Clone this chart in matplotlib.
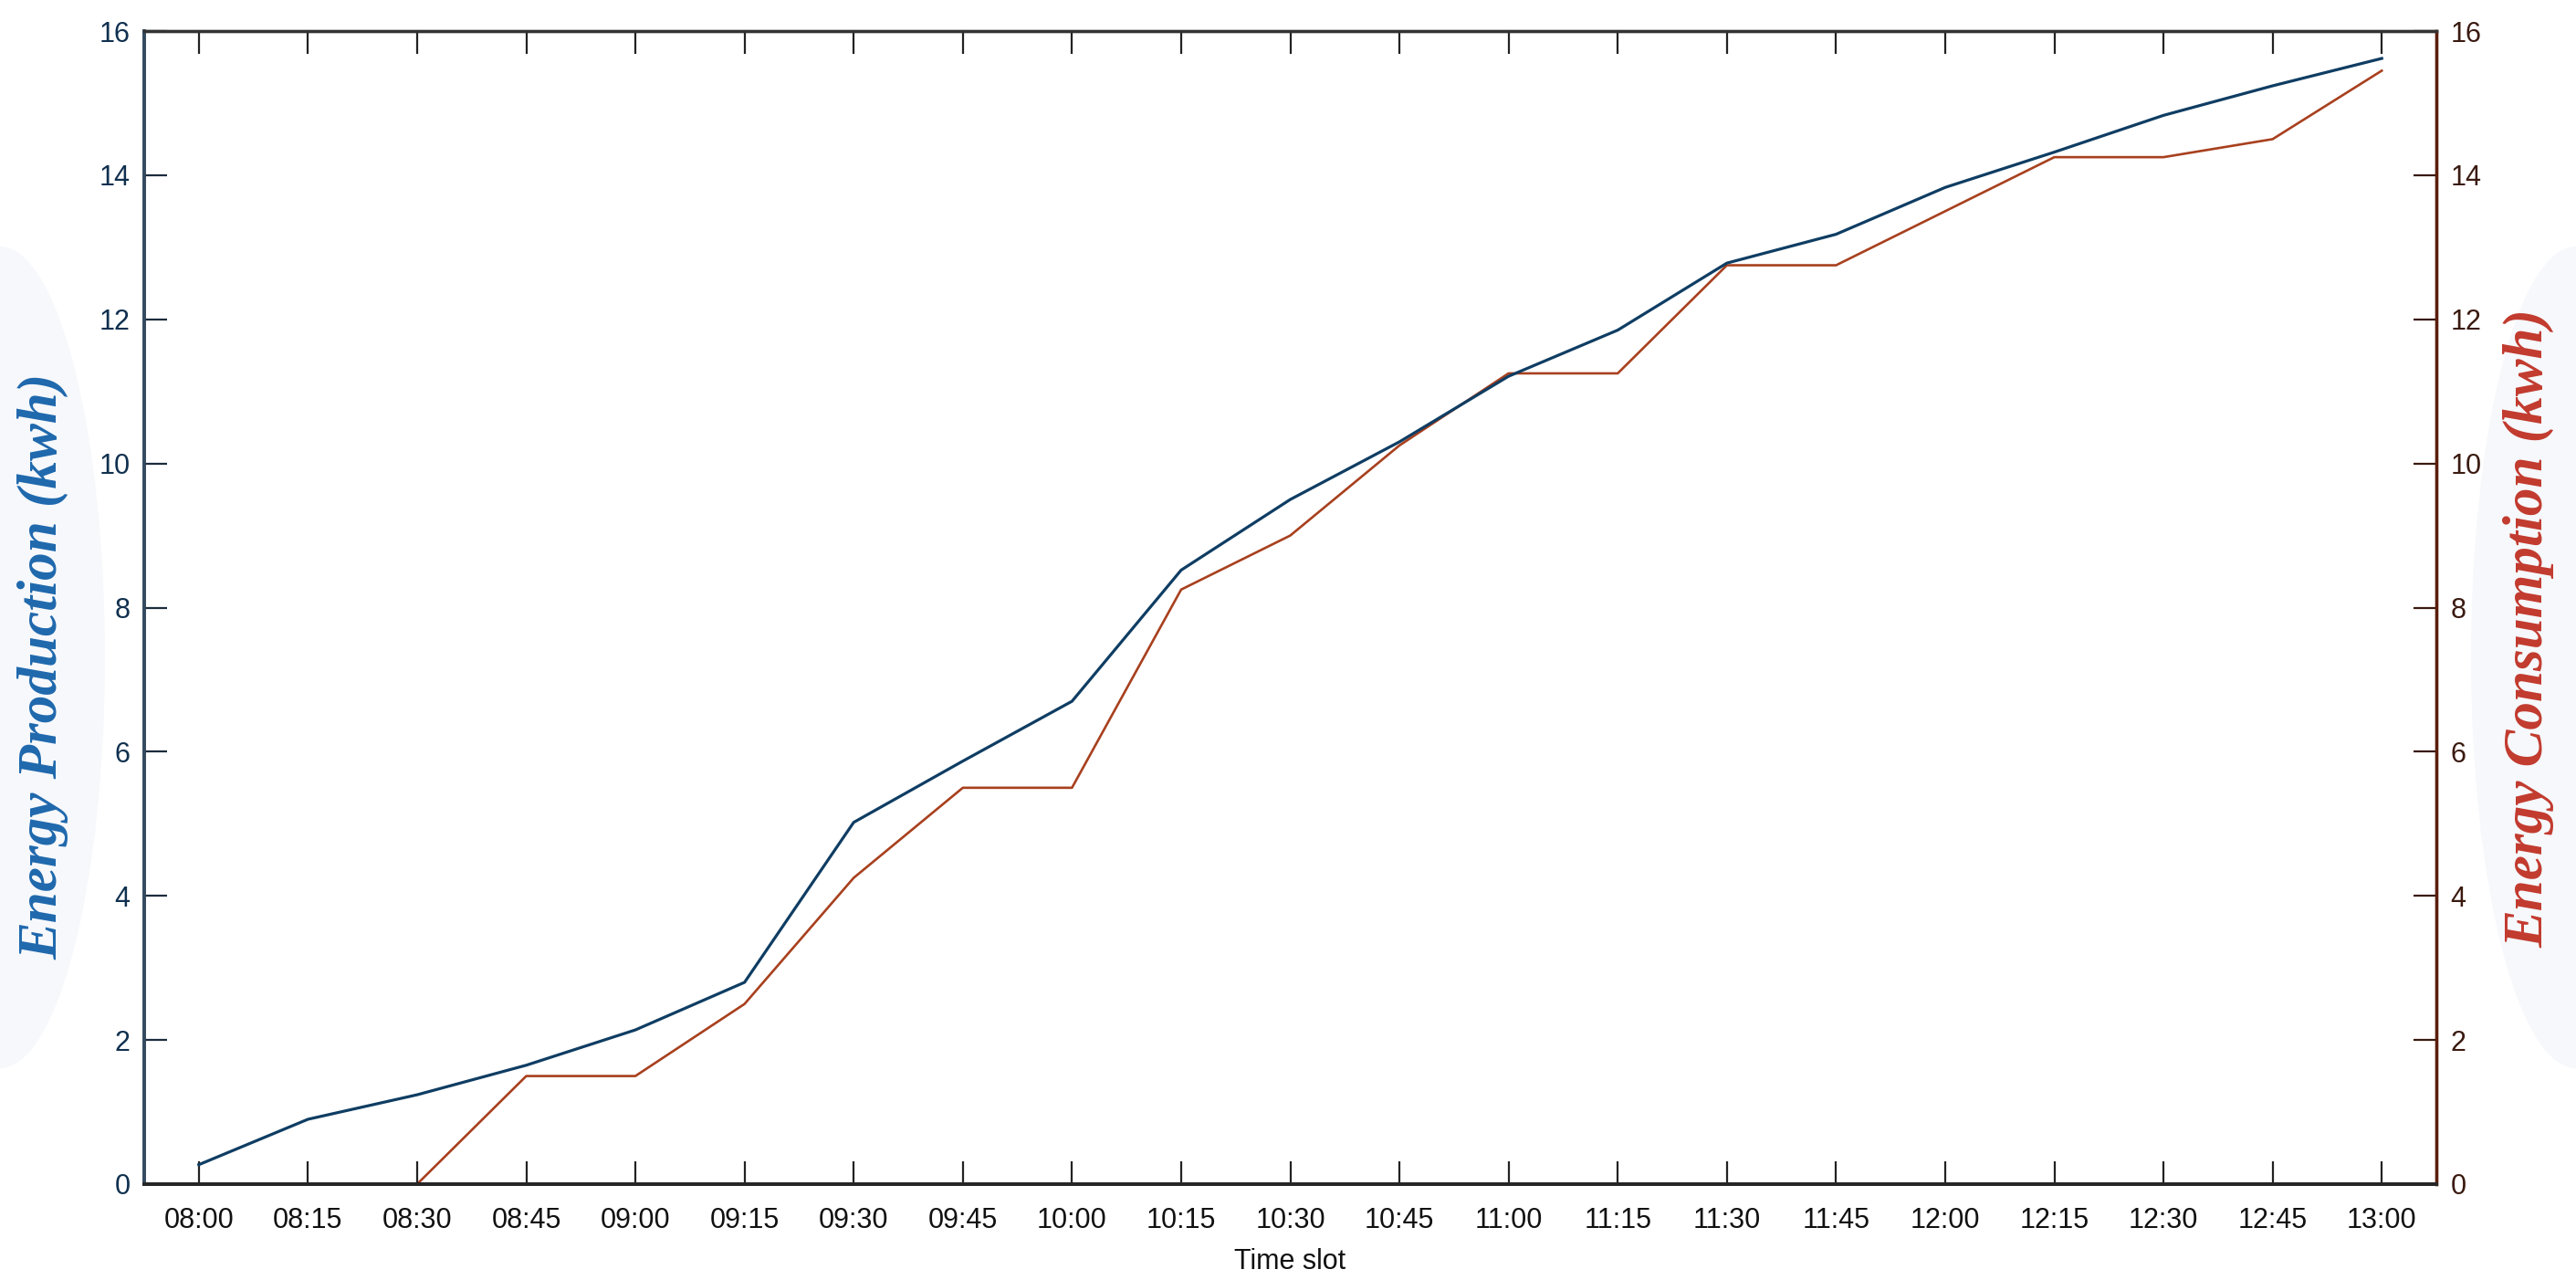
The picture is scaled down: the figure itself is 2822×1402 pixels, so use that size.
import numpy as np
import matplotlib
matplotlib.use("Agg")
import matplotlib.pyplot as plt
from matplotlib.patches import Ellipse

# data
time_slots = ["08:00", "08:15", "08:30", "08:45", "09:00", "09:15", "09:30",
              "09:45", "10:00", "10:15", "10:30", "10:45", "11:00", "11:15",
              "11:30", "11:45", "12:00", "12:15", "12:30", "12:45", "13:00"]
production = [0.27, 0.9, 1.24, 1.65, 2.14, 2.8, 5.02, 5.87, 6.7, 8.52, 9.5,
              10.3, 11.21, 11.85, 12.78, 13.18, 13.83, 14.32, 14.83, 15.24, 15.62]
consumption = [0, 0, 0, 1.5, 1.5, 2.5, 4.25, 5.5, 5.5, 8.25, 9.0,
               10.25, 11.25, 11.25, 12.75, 12.75, 13.5, 14.25, 14.25, 14.5, 15.45]
y_ticks = np.arange(0, 17, 2)

W, H = 2822, 1402
fig = plt.figure(figsize=(W / 100, H / 100), dpi=100)
fig.patch.set_facecolor("white")

# very faint blobs behind the axis labels (as in the scanned original)
for cx, cy in ((0, 720), (W, 720)):
    fig.patches.append(Ellipse((cx / W, 1 - cy / H), 230 / W, 900 / H,
                               transform=fig.transFigure, fc="#f6f8fb",
                               ec="none", zorder=-5))

left, right, top, bottom = 158, 2669, 34, 1297
ax = fig.add_axes([left / W, 1 - bottom / H, (right - left) / W, (bottom - top) / H])
ax2 = ax.twinx()
ax.set_zorder(2)
ax.patch.set_visible(False)

x = np.arange(len(time_slots))
ax2.plot(x, consumption, color="#a8401e", lw=1.9, clip_on=False, zorder=3)
ax.plot(x, production, color="#0f3d63", lw=2.3, clip_on=False, zorder=4)

ax.set_xlim(-0.5, len(time_slots) - 0.5)
ax.set_ylim(0, 16)
ax2.set_ylim(0, 16)
ax.set_xticks(x)
ax.set_xticklabels(time_slots)
ax.set_yticks(y_ticks)
ax2.set_yticks(y_ticks)

tick_family = ["Liberation Sans", "DejaVu Sans"]
ax.tick_params(axis="x", direction="in", length=18, width=1.6, color="#222222",
               top=True, bottom=True, pad=18, labelcolor="#111111")
ax.tick_params(axis="y", direction="in", length=18, width=1.6, color="#1c2c3c",
               left=True, right=False, pad=11, labelcolor="#10304f")
ax2.tick_params(axis="y", direction="in", length=18, width=1.6, color="#3a1a10",
                pad=11, labelcolor="#3a1a10")
for lab in ax.get_xticklabels() + ax.get_yticklabels() + ax2.get_yticklabels():
    lab.set_fontfamily(tick_family)
    lab.set_fontsize(22)

for a in (ax, ax2):
    a.spines["top"].set_color("#333333")
    a.spines["top"].set_linewidth(2.4)
    a.spines["bottom"].set_color("#262626")
    a.spines["bottom"].set_linewidth(2.8)
    a.spines["left"].set_color("#34495e")
    a.spines["left"].set_linewidth(2.6)
    a.spines["right"].set_color("#5a1e0c")
    a.spines["right"].set_linewidth(2.4)

fig.text(1413 / W, 1 - 1382 / H, "Time slot", ha="center", va="center",
         family=tick_family, size=22, color="#111111")

label_font = dict(family=["Liberation Serif", "DejaVu Serif"], size=44,
                  weight="bold", style="italic", rotation=90,
                  ha="center", va="center")
fig.text(47 / W, 1 - 730 / H, "Energy Production (kwh)", color="#1f68ad", **label_font)
fig.text(2770 / W, 1 - 688 / H, "Energy Consumption (kwh)", color="#c23a2e", **label_font)

fig.savefig("out.png", dpi=100, facecolor="white")
